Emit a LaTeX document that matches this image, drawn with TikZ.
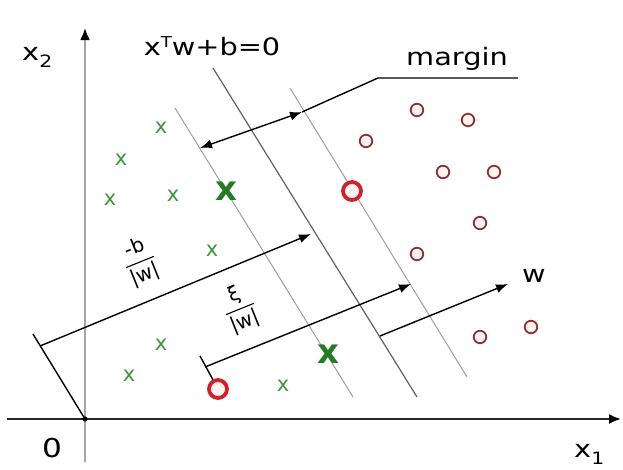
\documentclass[tikz,border=0pt]{standalone}
\usepackage{fontspec}
\setmainfont{DejaVu Sans}
\usetikzlibrary{arrows.meta}
\definecolor{ptgreen}{RGB}{60,150,60}
\definecolor{bggreen}{RGB}{35,125,35}
\definecolor{ptred}{RGB}{140,50,50}
\definecolor{ptpink}{RGB}{255,242,242}
\definecolor{bgred}{RGB}{205,35,45}
\definecolor{axgray}{RGB}{165,165,165}
\tikzset{
  lbl/.style={inner sep=0pt, xscale=1.2, font=\fontsize{24}{24}\selectfont},
  fraclbl/.style={inner sep=0pt, rotate=22, font=\fontsize{20}{22}\selectfont},
  smallx/.style={inner sep=0pt, text=ptgreen, font=\fontsize{21}{21}\selectfont},
  bigx/.style={inner sep=0pt, text=bggreen, font=\bfseries\fontsize{34}{34}\selectfont},
  smallo/.style={circle, draw=ptred, fill=ptpink, line width=1.8pt, minimum size=12.5pt, inner sep=0pt},
  bigo/.style={circle, draw=bgred, fill=ptpink, line width=3.8pt, minimum size=18pt, inner sep=0pt},
  hyper/.style={draw=black!62, line width=1.2pt},
  marg/.style={draw=black!38, line width=1pt},
  arr/.style={line width=1.4pt, -{Latex[length=12pt,width=9pt]}},
  darr/.style={line width=1.4pt, {Latex[length=12pt,width=9pt]}-{Latex[length=12pt,width=9pt]}},
  thinl/.style={line width=1.4pt}
}
\newcommand{\myfrac}[2]{$\displaystyle{\mbox{#1}\above1.1pt\mbox{#2}}$}
\begin{document}
\begin{tikzpicture}[x=1pt,y=-1pt]
\useasboundingbox (0,0) rectangle (623,469);
% axes
\coordinate (O) at (85,419);
\coordinate (xs) at (7,419);
\coordinate (xe) at (621,419);
\coordinate (ys) at (85,462);
\coordinate (ye) at (85,28);
\draw[line width=2.2pt, axgray, -{Latex[length=12pt,width=10pt,black]}] (ys) -- (ye);
\draw[line width=2pt, black!85, -{Latex[length=12pt,width=10pt,black]}] (xs) -- (xe);
\fill (O) circle (2.6pt);
% hyperplanes
\coordinate (h1) at (213,68);  \coordinate (h2) at (417,397);
\coordinate (l1) at (175,108); \coordinate (l2) at (353,397);
\coordinate (r1) at (290,88);  \coordinate (r2) at (467,377);
\draw[hyper] (h1) -- (h2);
\draw[marg] (l1) -- (l2);
\draw[marg] (r1) -- (r2);
% margin arrow and leader
\coordinate (ma) at (200,148);
\coordinate (mb) at (302,112);
\coordinate (lk) at (378,78);
\coordinate (le) at (518,78);
\draw[darr] (ma) -- (mb);
\draw[thinl] (mb) -- (lk) -- (le);
% -b/|w|
\coordinate (pt) at (33,334);
\coordinate (ba) at (40,346);
\coordinate (bb) at (311,234);
\draw[thinl] (O) -- (pt);
\draw[arr] (ba) -- (bb);
% xi/|w|
\coordinate (ct) at (200,356);
\coordinate (xa) at (205,367);
\coordinate (xb) at (411,284);
% w
\coordinate (wa) at (380,336);
\coordinate (wb) at (508,284);
\draw[arr] (wa) -- (wb);
\draw[arr] (xa) -- (xb);
% points
\node[smallx] (g1) at (161,128) {x};
\node[smallx] (g2) at (121,160) {x};
\node[smallx] (g3) at (110,200) {x};
\node[smallx] (g4) at (173,196) {x};
\node[smallx] (g5) at (212,251) {x};
\node[smallx] (g6) at (161,345) {x};
\node[smallx] (g7) at (129,376) {x};
\node[smallx] (g8) at (283,386) {x};
\node[bigx] (G1) at (226,191) {x};
\node[bigx] (G2) at (328,354) {x};
\node[smallo] (o1) at (366,141) {};
\node[smallo] (o2) at (417,110) {};
\node[smallo] (o3) at (468,120) {};
\node[smallo] (o4) at (443,172) {};
\node[smallo] (o5) at (494,172) {};
\node[smallo] (o6) at (480,223) {};
\node[smallo] (o7) at (417,254) {};
\node[smallo] (o8) at (480,337) {};
\node[smallo] (o9) at (531,327) {};
\node[bigo] (O1) at (352,191) {};
\draw[thinl] (218,389) -- (ct);
\node[bigo] (O2) at (218,389) {};
% labels
\node[lbl, anchor=base] (ttl) at (212,55) {x\raisebox{8pt}{\fontsize{15}{15}\selectfont T}w+b=0};
\node[lbl, anchor=base] (mlbl) at (457,65) {margin};
\node[lbl, anchor=base] (wlbl) at (534,282) {w};
\node[lbl, anchor=base, font=\fontsize{26}{26}\selectfont] (zero) at (52,457) {0};
\node[lbl, anchor=base west] (x1) at (574,457) {x\raisebox{-7pt}{\fontsize{17}{17}\selectfont 1}};
\node[lbl, anchor=base west] (x2) at (22,60) {x\raisebox{-7pt}{\fontsize{17}{17}\selectfont 2}};
\node[fraclbl] (bl) at (140,262) {\myfrac{-b}{|w|}};
\node[fraclbl] (xl) at (240,309) {\myfrac{ξ}{|w|}};
\end{tikzpicture}
\end{document}
